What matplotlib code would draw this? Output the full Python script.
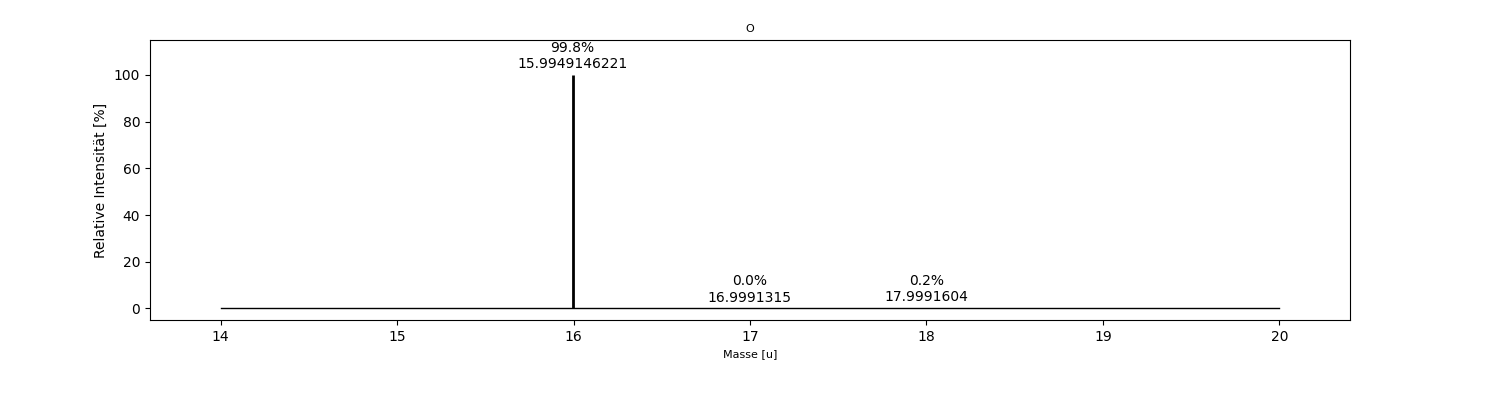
import matplotlib
matplotlib.use("Agg")
import matplotlib.pyplot as plt

masses = [15.9949146221, 16.9991315, 17.9991604]
abundances = [99.757, 0.038, 0.205]
mass_labels = ["15.9949146221", "16.9991315", "17.9991604"]
pct_labels = ["99.8%", "0.0%", "0.2%"]
baseline_x = [14, 20]
baseline_y = [0, 0]

fig = plt.figure(figsize=(15, 4), dpi=100)
ax = fig.add_axes([0.1, 0.2, 0.8, 0.7])

max_ab = max(abundances)
rel = [a / max_ab * 100 for a in abundances]

ax.plot(baseline_x, baseline_y, color="black", lw=1)
ax.vlines(masses, 0, rel, color="black", lw=2)
for m, r, p, ml in zip(masses, rel, pct_labels, mass_labels):
    ax.text(m, r + 1.6, f"{p}\n{ml}", ha="center", va="bottom", fontsize=10)

ax.set_xlim(13.6, 20.4)
ax.set_ylim(-5, 115)
ax.set_yticks([0, 20, 40, 60, 80, 100])
ax.set_title("O", fontsize=8)
ax.set_xlabel("Masse [u]", fontsize=8)
ax.set_ylabel("Relative Intensität [%]")

fig.savefig("out.png", dpi=100)
